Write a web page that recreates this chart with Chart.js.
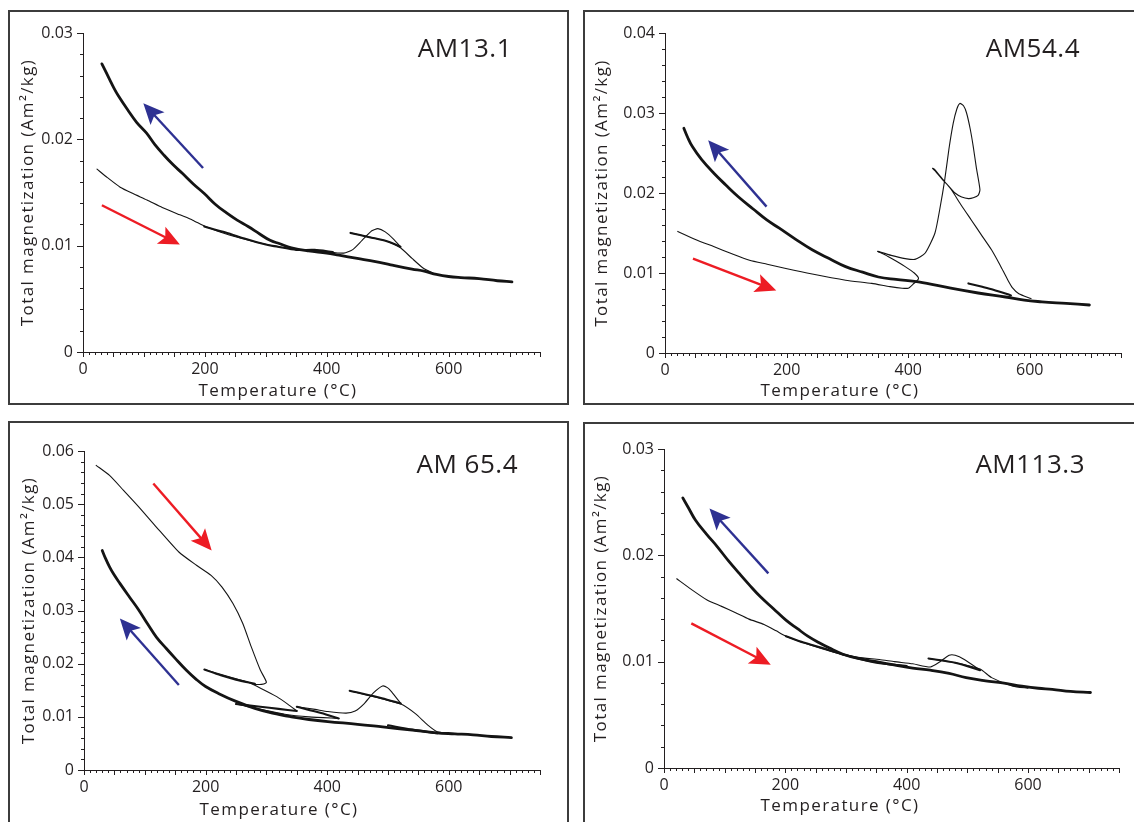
<!DOCTYPE html>
<html>
<head>
<meta charset="utf-8">
<script src="https://cdn.jsdelivr.net/npm/chart.js"></script>
<style>
  html, body { margin: 0; padding: 0; background: #fff; width: 1134px; height: 822px; overflow: hidden; }
  .box { position: absolute; border: 2px solid #3c3c3c; box-sizing: border-box; }
  canvas { position: absolute; }
</style>
</head>
<body>
<div class="box" style="left:8px;top:10px;width:561px;height:395px"></div>
<div class="box" style="left:583px;top:10px;width:570px;height:395px"></div>
<div class="box" style="left:8px;top:421px;width:561px;height:420px"></div>
<div class="box" style="left:583px;top:422px;width:570px;height:420px"></div>
<canvas id="p1" width="560" height="394" style="left:8px;top:10px"></canvas>
<canvas id="p2" width="551" height="394" style="left:583px;top:10px"></canvas>
<canvas id="p3" width="560" height="401" style="left:8px;top:421px"></canvas>
<canvas id="p4" width="551" height="400" style="left:583px;top:422px"></canvas>
<script>
// Temperature (°C) vs total magnetization (Am²/kg)
const xMax = 750;
const xTickStep = 200;
const yTickStep = 0.01;

// --- AM13.1 ---
const am131HeatA = [[23,0.0172],[40,0.0164],[61,0.0155],[82,0.0149],[105,0.0143],[130,0.0136],[159,0.0129],[180,0.0124],[201,0.0118],[240,0.0110],[280,0.0104],[320,0.0099],[360,0.0096],[400,0.0094],[428,0.0093],[442,0.0096],[458,0.0105],[474,0.0114],[484,0.0116],[496,0.0113],[510,0.0106],[521,0.0099]];
const am131HeatB = [[439,0.0112],[470,0.0108],[500,0.0104],[521,0.0098],[540,0.0088],[558,0.0079],[578,0.0073]];
const am131CoolA = [[410,0.0094],[380,0.0096],[350,0.0096],[320,0.0099],[300,0.0101],[263,0.0107],[230,0.0113],[199,0.0118]];
const am131CoolB = [[521,0.0099],[500,0.0104],[470,0.0108],[439,0.0112]];
const am131CoolFinal = [[704,0.0066],[680,0.0067],[650,0.0069],[620,0.0070],[600,0.0071],[580,0.0073],[560,0.0076],[540,0.0078],[505,0.0082],[480,0.0085],[450,0.0088],[420,0.0091],[400,0.0093],[370,0.0095],[342,0.0098],[322,0.0102],[307,0.0105],[290,0.0111],[271,0.0118],[253,0.0124],[235,0.0131],[217,0.0139],[199,0.0149],[181,0.0158],[163,0.0168],[148,0.0176],[133,0.0185],[118,0.0195],[104,0.0206],[88,0.0216],[73,0.0228],[58,0.0241],[51,0.0248],[44,0.0256],[38,0.0263],[31,0.0271]];
const am131ArrowCool = [[197,0.0173],[99,0.0234]];
const am131ArrowHeat = [[31,0.0138],[159,0.0101]];

// --- AM54.4 ---
const am544HeatA = [[21,0.0152],[50,0.0142],[80,0.0133],[110,0.0124],[139,0.0116],[168,0.0111],[197,0.0106],[240,0.0099],[297,0.0091],[340,0.0087],[370,0.0083],[390,0.0081],[400,0.0081],[408,0.0086],[417,0.0093],[410,0.0100],[395,0.0108],[380,0.0115],[366,0.0121],[350,0.0127]];
const am544HeatB = [[350,0.0127],[372,0.0122],[395,0.0118],[411,0.0117],[428,0.0125],[444,0.0150],[452,0.0180],[460,0.0216],[467,0.0255],[474,0.0287],[480,0.0305],[485,0.0312],[491,0.0309],[496,0.0300],[502,0.0280],[507,0.0258],[512,0.0232],[518,0.0204],[515,0.0197],[507,0.0194],[499,0.0193],[488,0.0195],[477,0.0200],[465,0.0210],[455,0.0218],[445,0.0227],[440,0.0231],[443,0.0230],[458,0.0216],[471,0.0204],[487,0.0185],[504,0.0166],[520,0.0148],[537,0.0129],[551,0.0110],[564,0.0091],[572,0.0081],[582,0.0074],[602,0.0068]];
const am544CoolA = [[569,0.0072],[540,0.0079],[520,0.0083],[499,0.0087]];
const am544CoolFinal = [[698,0.0060],[660,0.0062],[620,0.0064],[591,0.0066],[560,0.0070],[515,0.0075],[470,0.0081],[417,0.0089],[380,0.0092],[351,0.0095],[325,0.0101],[297,0.0108],[270,0.0118],[242,0.0129],[215,0.0142],[188,0.0156],[168,0.0166],[145,0.0180],[121,0.0195],[100,0.0210],[80,0.0225],[60,0.0242],[45,0.0258],[37,0.0270],[31,0.0281]];
const am544ArrowCool = [[167,0.0183],[71,0.0266]];
const am544ArrowHeat = [[46,0.0118],[183,0.0078]];

// --- AM 65.4 ---
const am654HeatA = [[20,0.0573],[42,0.0554],[65,0.0526],[90,0.0495],[119,0.0457],[156,0.0410],[185,0.0385],[209,0.0366],[227,0.0344],[245,0.0313],[261,0.0276],[275,0.0232],[290,0.0188],[300,0.0165],[292,0.0161],[281,0.0161]];
const am654HeatB = [[198,0.0189],[240,0.0175],[270,0.0165],[292,0.0153],[317,0.0138],[335,0.0124],[350,0.0111]];
const am654HeatC = [[250,0.0124],[290,0.0114],[330,0.0105],[370,0.0100],[419,0.0097]];
const am654HeatD = [[350,0.0119],[380,0.0114],[401,0.0110],[431,0.0107],[446,0.0111],[461,0.0125],[476,0.0145],[491,0.0158],[499,0.0155],[506,0.0147],[521,0.0125]];
const am654HeatE = [[437,0.0149],[480,0.0137],[521,0.0124],[545,0.0106],[565,0.0085],[581,0.0072],[600,0.0069]];
const am654CoolA = [[281,0.0162],[250,0.0170],[225,0.0178],[198,0.0189]];
const am654CoolB = [[350,0.0111],[320,0.0115],[290,0.0119],[250,0.0124]];
const am654CoolC = [[419,0.0097],[390,0.0107],[350,0.0119]];
const am654CoolD = [[521,0.0125],[490,0.0135],[437,0.0149]];
const am654CoolE = [[581,0.0069],[540,0.0076],[500,0.0084]];
const am654CoolFinal = [[703,0.0061],[670,0.0063],[640,0.0066],[610,0.0068],[580,0.0070],[540,0.0075],[491,0.0081],[450,0.0086],[401,0.0091],[370,0.0095],[341,0.0100],[310,0.0107],[281,0.0116],[250,0.0129],[221,0.0144],[200,0.0157],[185,0.0170],[168,0.0188],[150,0.0210],[135,0.0229],[119,0.0250],[105,0.0274],[90,0.0301],[75,0.0325],[59,0.0351],[49,0.0368],[42,0.0382],[35,0.0399],[30,0.0413]];
const am654ArrowHeat = [[114,0.0539],[210,0.0413]];
const am654ArrowCool = [[156,0.0160],[59,0.0285]];

// --- AM113.3 ---
const am1133HeatA = [[21,0.0178],[45,0.0168],[71,0.0158],[95,0.0152],[118,0.0146],[140,0.0140],[165,0.0135],[185,0.0129],[201,0.0124],[240,0.0116],[280,0.0109],[320,0.0104],[355,0.0102],[380,0.0100],[410,0.0098],[439,0.0095],[455,0.0100],[470,0.0106],[480,0.0106],[495,0.0102],[521,0.0092]];
const am1133HeatB = [[436,0.0103],[480,0.0099],[521,0.0093],[540,0.0085],[575,0.0077],[600,0.0075]];
const am1133CoolA = [[400,0.0096],[350,0.0099],[300,0.0106],[260,0.0113],[230,0.0118],[201,0.0124]];
const am1133CoolB = [[521,0.0092],[480,0.0099],[436,0.0103]];
const am1133CoolFinal = [[703,0.0071],[670,0.0072],[640,0.0074],[617,0.0075],[590,0.0077],[558,0.0080],[530,0.0082],[498,0.0085],[470,0.0089],[439,0.0092],[410,0.0094],[379,0.0097],[350,0.0100],[320,0.0103],[295,0.0107],[272,0.0113],[255,0.0118],[237,0.0124],[220,0.0131],[201,0.0139],[180,0.0150],[159,0.0161],[141,0.0172],[124,0.0183],[106,0.0195],[88,0.0208],[70,0.0220],[52,0.0233],[40,0.0245],[31,0.0254]];
const am1133ArrowCool = [[172,0.0183],[75,0.0244]];
const am1133ArrowHeat = [[45,0.0136],[176,0.0097]];

const BLUE = '#2e3192';
const RED = '#ed1c24';
const INK = '#231f20';
const FONT = '"Open Sans", "Noto Sans", sans-serif';

const panels = [
  { id: 'p1', name: 'AM13.1', yMax: 0.03,
    heating: [am131HeatA, am131HeatB], cooling: [am131CoolA, am131CoolB], final: am131CoolFinal,
    arrows: [[am131ArrowCool, BLUE], [am131ArrowHeat, RED]],
    pad: { top: 23, right: 28 }, yAxisW: 75, xAxisH: 52,
    yTitleOff: 55, xTitleOff: 195, xTitleDy: 39, nameRight: 28, nameBase: 24 },
  { id: 'p2', name: 'AM54.4', yMax: 0.04,
    heating: [am544HeatA, am544HeatB], cooling: [am544CoolA], final: am544CoolFinal,
    arrows: [[am544ArrowCool, BLUE], [am544ArrowHeat, RED]],
    pad: { top: 23, right: 13 }, yAxisW: 82, xAxisH: 51,
    yTitleOff: 63, xTitleOff: 175, xTitleDy: 38, nameRight: 41, nameBase: 24 },
  { id: 'p3', name: 'AM 65.4', yMax: 0.06,
    heating: [am654HeatA, am654HeatB, am654HeatC, am654HeatD, am654HeatE],
    cooling: [am654CoolA, am654CoolB, am654CoolC, am654CoolD, am654CoolE], final: am654CoolFinal,
    arrows: [[am654ArrowHeat, RED], [am654ArrowCool, BLUE]],
    pad: { top: 30, right: 28 }, yAxisW: 76, xAxisH: 52,
    yTitleOff: 55, xTitleOff: 195, xTitleDy: 40, nameRight: 22, nameBase: 22 },
  { id: 'p4', name: 'AM113.3', yMax: 0.03,
    heating: [am1133HeatA, am1133HeatB], cooling: [am1133CoolA, am1133CoolB], final: am1133CoolFinal,
    arrows: [[am1133ArrowCool, BLUE], [am1133ArrowHeat, RED]],
    pad: { top: 27, right: 15 }, yAxisW: 81, xAxisH: 54,
    yTitleOff: 63, xTitleOff: 176, xTitleDy: 38, nameRight: 34, nameBase: 24 }
];

function drawArrow(ctx, x0, y0, x1, y1, color) {
  const ang = Math.atan2(y1 - y0, x1 - x0);
  const c = Math.cos(ang), s = Math.sin(ang);
  const hl = 21, hw = 9.5;
  const bx = x1 - hl * c, by = y1 - hl * s;
  ctx.strokeStyle = color;
  ctx.fillStyle = color;
  ctx.lineWidth = 2.4;
  ctx.beginPath();
  ctx.moveTo(x0, y0);
  ctx.lineTo(x1 - hl * 0.7 * c, y1 - hl * 0.7 * s);
  ctx.stroke();
  ctx.beginPath();
  ctx.moveTo(x1, y1);
  ctx.lineTo(bx - s * hw, by + c * hw);
  ctx.lineTo(x1 - hl * 0.78 * c, y1 - hl * 0.78 * s);
  ctx.lineTo(bx + s * hw, by - c * hw);
  ctx.closePath();
  ctx.fill();
}

// minor ticks, arrows, titles and sample name
const decor = {
  id: 'decor',
  afterDraw(chart, args, opts) {
    const p = opts.panel;
    const { ctx, chartArea: a } = chart;
    const x = chart.scales.x, y = chart.scales.y;
    ctx.save();
    ctx.strokeStyle = INK;
    ctx.lineWidth = 1;
    for (let v = 0; v <= xMax; v += 10) {
      const px = Math.round(x.getPixelForValue(v)) + 0.5;
      const len = v % 50 === 0 ? 5 : 3;
      ctx.beginPath(); ctx.moveTo(px, a.bottom); ctx.lineTo(px, a.bottom + len); ctx.stroke();
    }
    const nY = Math.round(p.yMax / 0.002);
    for (let i = 0; i <= nY; i++) {
      const py = Math.round(y.getPixelForValue(i * 0.002)) + 0.5;
      const len = i % 5 === 0 ? 6 : 3;
      ctx.beginPath(); ctx.moveTo(a.left, py); ctx.lineTo(a.left - len, py); ctx.stroke();
    }

    p.arrows.forEach(([pts, color]) => {
      drawArrow(ctx,
        x.getPixelForValue(pts[0][0]), y.getPixelForValue(pts[0][1]),
        x.getPixelForValue(pts[1][0]), y.getPixelForValue(pts[1][1]), color);
    });

    ctx.fillStyle = INK;
    ctx.font = '17px ' + FONT;
    ctx.letterSpacing = '1.4px';
    ctx.textAlign = 'center';
    ctx.textBaseline = 'middle';
    ctx.fillText('Temperature (°C)', a.left + p.xTitleOff, a.bottom + p.xTitleDy);
    ctx.save();
    ctx.translate(a.left - p.yTitleOff, (a.top + a.bottom) / 2);
    ctx.rotate(-Math.PI / 2);
    ctx.fillText('Total magnetization (Am²/kg)', 0, 0);
    ctx.restore();

    ctx.letterSpacing = '0.5px';
    ctx.font = '26px ' + FONT;
    ctx.textAlign = 'right';
    ctx.textBaseline = 'alphabetic';
    ctx.fillText(p.name, a.right - p.nameRight, a.top + p.nameBase);
    ctx.restore();
  }
};

function line(points, width, tension) {
  return {
    data: points.map(([t, m]) => ({ x: t, y: m })),
    showLine: true,
    borderColor: '#141414',
    borderWidth: width,
    pointRadius: 0,
    tension: tension,
    borderCapStyle: 'round',
    borderJoinStyle: 'round'
  };
}

function makePanel(p) {
  const tickFont = { family: FONT, size: 16 };
  new Chart(document.getElementById(p.id), {
    type: 'scatter',
    data: {
      datasets: [
        line(p.final, 2.8, 0.4),
        ...p.cooling.map(d => line(d, 2.1, 0.3)),
        ...p.heating.map(d => line(d, 1.1, 0.2))
      ]
    },
    options: {
      responsive: false,
      animation: false,
      events: [],
      layout: { padding: { top: p.pad.top, right: p.pad.right, left: 0, bottom: 0 } },
      plugins: { legend: { display: false }, tooltip: { enabled: false }, decor: { panel: p } },
      scales: {
        x: {
          type: 'linear', min: 0, max: xMax,
          afterFit: s => { s.height = p.xAxisH; },
          afterBuildTicks: s => { s.ticks = s.ticks.filter(t => t.value % xTickStep === 0); },
          grid: { display: false, drawTicks: false },
          border: { display: true, color: INK, width: 1 },
          ticks: { stepSize: xTickStep, autoSkip: false, maxRotation: 0, padding: 8, color: INK, font: tickFont }
        },
        y: {
          type: 'linear', min: 0, max: p.yMax,
          afterFit: s => { s.width = p.yAxisW; },
          grid: { display: false, drawTicks: false },
          border: { display: true, color: INK, width: 1 },
          ticks: { stepSize: yTickStep, autoSkip: false, padding: 10, color: INK, font: tickFont,
                   callback: v => (v === 0 ? '0' : v.toFixed(2)) }
        }
      }
    },
    plugins: [decor]
  });
}

panels.forEach(makePanel);
</script>
</body>
</html>
